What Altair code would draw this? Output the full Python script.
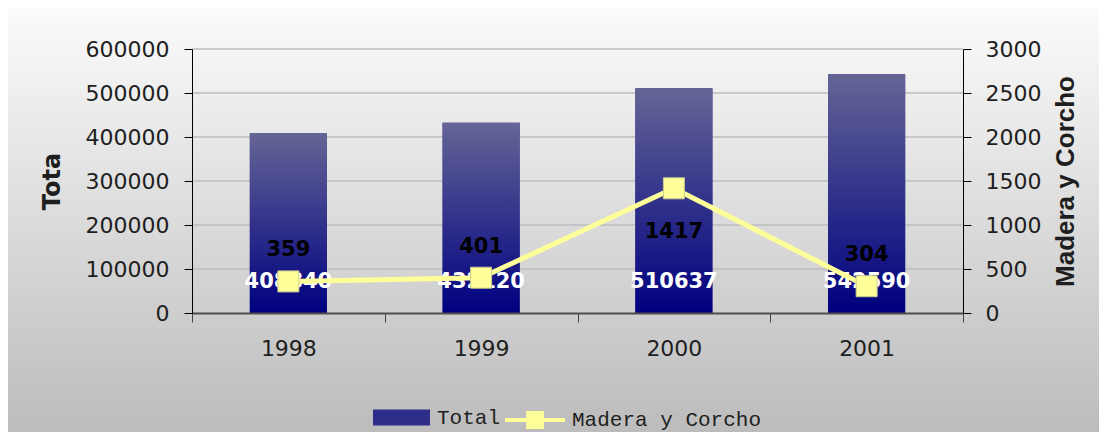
import altair as alt
import pandas as pd

# ---- data ----
years = ["1998", "1999", "2000", "2001"]
total = [408840, 432120, 510637, 542590]
madera = [359, 401, 1417, 304]
left_ticks = [0, 100000, 200000, 300000, 400000, 500000, 600000]
right_ticks = [0, 500, 1000, 1500, 2000, 2500, 3000]

df = pd.DataFrame({"year": years, "total": total, "madera": madera})
grid_df = pd.DataFrame({"v": left_ticks[1:]})

W, H = 771, 264
PAD = {"left": 184, "top": 41, "right": 136, "bottom": 119}
TXT = "#1e1e1e"
NAVY = "#2e2e8a"
YEL = "#ffff99"

base = alt.Chart(df)

# background gradient panel (decoration)
bg = alt.Chart(pd.DataFrame({"k": [0]})).mark_rect(
    fill=alt.Gradient(
        gradient="linear", x1=0, x2=0, y1=0, y2=1,
        stops=[alt.GradientStop(color="#fbfbfb", offset=0),
               alt.GradientStop(color="#bcbcbc", offset=1)],
    )
).encode(
    x=alt.value(-PAD["left"]), x2=alt.value(W + PAD["right"]),
    y=alt.value(-PAD["top"]), y2=alt.value(H + PAD["bottom"]),
)

x_enc = alt.X(
    "year:N", sort=years, title=None,
    scale=alt.Scale(paddingInner=0, paddingOuter=0),
    axis=alt.Axis(
        tickBand="extent", labelAngle=0, labelFont="DejaVu Sans", labelFontSize=22,
        labelColor=TXT, labelPadding=16, tickSize=9, tickColor="#444",
        domainColor="#4d4d4d", domainWidth=2, grid=False, zindex=1,
    ),
)

left_axis = alt.Axis(
    title="Tota", values=left_ticks, format="d",
    titleFont="DejaVu Sans", titleFontWeight="bold", titleFontSize=24, titleColor=TXT,
    titlePadding=21,
    labelFont="DejaVu Sans", labelFontSize=22, labelColor=TXT, labelPadding=15,
    tickSize=8, tickColor="#000", domainColor="#000", domainWidth=1,
    grid=False, zindex=1,
)
left_scale = alt.Scale(domain=[0, 600000])

grid = alt.Chart(grid_df).mark_rule(color="#bdbdbd", strokeWidth=1.5).encode(
    y=alt.Y("v:Q", scale=left_scale, axis=left_axis),
)

bar_legend = base.transform_calculate(series="'Total'").mark_bar(
    width=alt.RelativeBandSize(0.4)
).encode(
    x=x_enc,
    y=alt.Y("total:Q", scale=left_scale, axis=left_axis),
    fill=alt.Fill(
        "series:N",
        scale=alt.Scale(domain=["Total"], range=[NAVY]),
        legend=alt.Legend(
            title=None, orient="none", legendX=181, legendY=340,
            symbolType="M-1,-0.28H1V0.28H-1Z", symbolSize=3249, symbolStrokeWidth=0,
            labelFont="Liberation Mono", labelFontSize=21, labelColor=TXT,
            labelOffset=7, padding=0, labelLimit=0,
        ),
    ),
)

bars = base.mark_bar(
    width=alt.RelativeBandSize(0.4),
    fill=alt.Gradient(
        gradient="linear", x1=0, x2=0, y1=0, y2=1,
        stops=[alt.GradientStop(color="#656596", offset=0),
               alt.GradientStop(color="#000080", offset=1)],
    ),
).encode(
    x=x_enc,
    y=alt.Y("total:Q", scale=left_scale, axis=left_axis),
)

total_labels = base.transform_calculate(zero="0").mark_text(
    font="DejaVu Sans", fontWeight="bold", fontSize=21, color="white",
    baseline="middle", dy=-31,
).encode(
    x=x_enc,
    y=alt.Y("zero:Q", scale=left_scale, axis=left_axis),
    text=alt.Text("total:Q", format="d"),
)

left = alt.layer(grid, bar_legend, bars, total_labels)

right_axis = alt.Axis(
    orient="right", title="Madera y Corcho", values=right_ticks, format="d",
    titleFont="Liberation Sans", titleFontWeight="bold", titleFontSize=26, titleColor=TXT,
    titleAngle=270, titleBaseline="top", titlePadding=12,
    labelFont="DejaVu Sans", labelFontSize=22, labelColor=TXT, labelPadding=14,
    tickSize=8, tickColor="#000", domainColor="#000", domainWidth=1, grid=False,
    zindex=1,
)
right_scale = alt.Scale(domain=[0, 3000])

line = base.transform_calculate(series2="'Madera y Corcho'").mark_line(
    strokeWidth=5
).encode(
    x=x_enc,
    y=alt.Y("madera:Q", scale=right_scale, axis=right_axis),
    stroke=alt.Stroke(
        "series2:N",
        scale=alt.Scale(domain=["Madera y Corcho"], range=[YEL]),
        legend=alt.Legend(
            title=None, orient="none", legendX=311, legendY=339,
            symbolType="M-1,0H1M-0.23,-0.23H0.23V0.23H-0.23Z", symbolSize=3600,
            symbolStrokeWidth=4, symbolFillColor=YEL,
            labelFont="Liberation Mono", labelFontSize=21, labelColor=TXT,
            labelOffset=5, padding=0, labelLimit=0,
        ),
    ),
)

points = base.mark_square(
    size=441, color=YEL, stroke="#c8c890", strokeWidth=1, opacity=1
).encode(
    x=x_enc,
    y=alt.Y("madera:Q", scale=right_scale, axis=right_axis),
)

mlabels_up = base.transform_filter("datum.madera < 1000").mark_text(
    font="DejaVu Sans", fontWeight="bold", fontSize=21, color="#000",
    baseline="middle", dy=-31,
).encode(
    x=x_enc,
    y=alt.Y("madera:Q", scale=right_scale, axis=right_axis),
    text=alt.Text("madera:Q", format="d"),
)

mlabels_down = base.transform_filter("datum.madera >= 1000").mark_text(
    font="DejaVu Sans", fontWeight="bold", fontSize=21, color="#000",
    baseline="middle", dy=44,
).encode(
    x=x_enc,
    y=alt.Y("madera:Q", scale=right_scale, axis=right_axis),
    text=alt.Text("madera:Q", format="d"),
)

right = alt.layer(line, points, mlabels_up, mlabels_down)

chart = alt.layer(bg, left, right).resolve_scale(
    y="independent", fill="independent", stroke="independent"
).properties(
    width=W, height=H,
    autosize=alt.AutoSizeParams(type="none"),
    padding=PAD,
    background="white",
).configure_view(stroke=None)

chart.save("out.html", embed_options={"renderer": "svg", "actions": False})
